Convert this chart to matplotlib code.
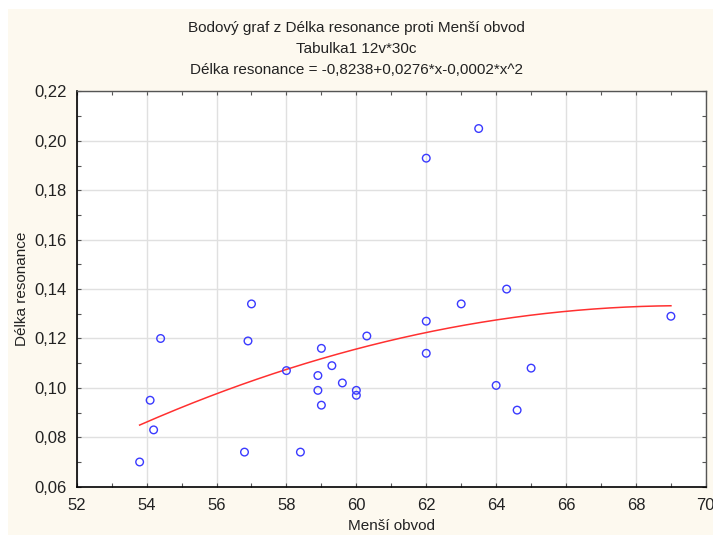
import matplotlib.pyplot as plt
import numpy as np
from matplotlib.patches import Rectangle
from matplotlib.ticker import MultipleLocator, FuncFormatter

plt.rcParams['font.family'] = ['Liberation Sans', 'DejaVu Sans']

# Data
mensi_obvod = [53.8, 54.1, 54.2, 54.4, 56.8, 56.9, 57.0, 58.0, 58.4, 58.9,
               58.9, 59.0, 59.0, 59.3, 59.6, 60.0, 60.0, 60.3, 62.0, 62.0,
               62.0, 63.0, 63.5, 64.0, 64.3, 64.6, 65.0, 69.0]
delka_resonance = [0.070, 0.095, 0.083, 0.120, 0.074, 0.119, 0.134, 0.107, 0.074, 0.105,
                   0.099, 0.116, 0.093, 0.109, 0.102, 0.099, 0.097, 0.121, 0.127, 0.114,
                   0.193, 0.134, 0.205, 0.101, 0.140, 0.091, 0.108, 0.129]

title_lines = ["Bodový graf z Délka resonance proti Menší obvod",
               "Tabulka1 12v*30c",
               "Délka resonance = -0,8238+0,0276*x-0,0002*x^2"]

x = np.array(mensi_obvod)
y = np.array(delka_resonance)

fig = plt.figure(figsize=(7.13, 5.35), dpi=100)
fig.patch.set_facecolor('white')
fig.patches.append(Rectangle((8 / 713, 0), 1, 1 - 9 / 535, transform=fig.transFigure,
                             facecolor='#fdf9ef', edgecolor='none', zorder=-10))

ax = fig.add_axes([0.1076, 0.0903, 0.8824, 0.7387])
ax.set_facecolor('white')

# quadratic fit
coef = np.polyfit(x, y, 2)
xs = np.linspace(x.min(), x.max(), 200)
ax.plot(xs, np.polyval(coef, xs), color='#ff3030', linewidth=1.1, zorder=2)

ax.scatter(x, y, s=30, facecolors='none', edgecolors='#3a3aff', linewidths=1.0, zorder=3)

ax.set_xlim(52, 70)
ax.set_ylim(0.06, 0.22)
ax.xaxis.set_major_locator(MultipleLocator(2))
ax.xaxis.set_minor_locator(MultipleLocator(1))
ax.yaxis.set_major_locator(MultipleLocator(0.02))
ax.yaxis.set_minor_locator(MultipleLocator(0.01))
ax.yaxis.set_major_formatter(FuncFormatter(lambda v, p: f"{v:.2f}".replace('.', ',')))
ax.xaxis.set_major_formatter(FuncFormatter(lambda v, p: f"{v:.0f}"))

ax.grid(True, which='major', color='#e0e0e0', linewidth=1.0, zorder=0)
ax.set_axisbelow(True)
ax.tick_params(which='both', direction='in', top=True, right=True, length=3,
               width=0.8, colors='#555555', labelcolor='#222222', labelsize=12)
ax.tick_params(axis='y', pad=7)
ax.tick_params(axis='x', pad=8)

for side in ['left', 'bottom']:
    ax.spines[side].set_color('black')
    ax.spines[side].set_linewidth(1.2)
for side in ['top', 'right']:
    ax.spines[side].set_color('#555555')
    ax.spines[side].set_linewidth(1.0)

ax.set_ylabel('Délka resonance', fontsize=11, color='#222222', labelpad=4)
fig.text(0.5 * (0.1076 + 0.99), 1 - 526 / 535, 'Menší obvod', ha='center', va='center',
         fontsize=11, color='#222222')

for i, line in enumerate(title_lines):
    fig.text(0.5, 1 - (28 + 21 * i) / 535, line, ha='center', va='center',
             fontsize=11, color='#222222')

fig.savefig('out.png', dpi=100, facecolor=fig.get_facecolor())
